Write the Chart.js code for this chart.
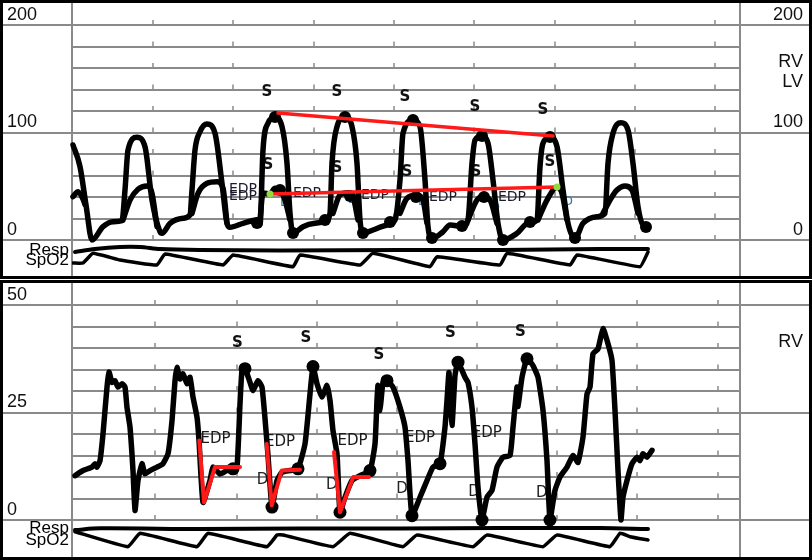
<!DOCTYPE html>
<html><head><meta charset="utf-8">
<script src="https://cdn.jsdelivr.net/npm/chart.js@4.4.1/dist/chart.umd.min.js"></script>
<style>
html,body{margin:0;padding:0;background:#fff;}
#wrap{position:relative;width:812px;height:560px;overflow:hidden;}
canvas{position:absolute;left:0;}
</style></head><body>
<div id="wrap">
<canvas id="top" width="812" height="279" style="top:0px"></canvas>
<canvas id="topStrip" width="812" height="36" style="top:240px"></canvas>
<canvas id="bot" width="812" height="280" style="top:280px"></canvas>
<canvas id="botStrip" width="812" height="36" style="top:520px"></canvas>
</div>
<script>
// time axis: samples (80 per second); pressures in mmHg
const topTimeTicks = [81,161,242,322,402,483,563,643];
const botTimeTicks = [83,165,245,325,405,485,565,646];

const topLV = [[1,88.4],[8,68.2],[14,32.6],[20,0],[31,12.4],[41,17.0],[50,18.0],[53,46.5],[56,83.7],[65,95.5],[73,86.8],[80,37.2],[88,7.7],[90,6.2],[98,15.5],[111,20.2],[118,23.3],[120,46.5],[123,83.7],[128,100.7],[135,107.9],[143,99.3],[150,52.7],[155,15.5],[158,11.8],[171,15.5],[185,18.6],[188,14.0],[191,83.7],[196,108.6],[203,114.1],[210,105.4],[215,71.3],[218,24.8],[221,6.2],[231,12.4],[243,15.5],[253,17.0],[258,24.8],[260,71.3],[265,105.4],[273,114.7],[280,105.4],[285,71.3],[288,18.6],[291,6.2],[301,9.3],[315,14.0],[323,18.6],[328,55.8],[331,99.3],[341,111.6],[348,105.4],[353,55.8],[356,12.4],[360,1.6],[371,7.7],[378,14.0],[391,12.4],[396,18.6],[400,71.3],[403,93.0],[410,96.7],[416,90.0],[421,55.8],[426,15.5],[431,0],[445,6.2],[456,15.5],[465,18.6],[468,68.2],[471,90.0],[478,95.5],[485,86.8],[491,46.5],[496,15.5],[503,1.6],[511,15.5],[525,21.7],[533,24.8],[536,71.3],[541,99.3],[549,109.1],[556,102.3],[561,71.3],[566,31.0],[571,14.0],[576,12.4]];

const topRV = [[1,40.3],[6,45],[11,38],[13,33],[14,null],
[51,18.6],[58,37.2],[66,47.2],[75,50.2],[80,43.4],[85,12.4],[86,null],
[120,24.8],[126,43.4],[135,52.7],[145,54.2],[151,48.1],[155,15.5],[156,null],
[188,18.6],[191,43.7],[198,42.8],[203,48.1],[208,46.5],[213,37.2],[218,18.6],[219,null],
[261,24.8],[268,41.9],[276,44.0],[281,40.3],[286,18.6],[287,null],
[328,24.8],[335,38.8],[345,41.9],[351,37.2],[355,15.5],[356,null],
[396,18.6],[405,37.2],[411,40.3],[418,37.2],[425,15.5],[426,null],
[466,18.6],[475,37.2],[485,49.0],[490,43.4],[495,18.6],[496,null],
[531,24.8],[538,37.2],[545,46.5],[553,50.2],[560,46.5],[566,24.8]];

const topDots = [[203,114.4],[273,114.4],[341,111.6],[410,96.7],[478,95.8],
[221,6.5],[291,6.5],[360,1.9],[431,0],[503,1.9],
[185,15.8],[253,18.6],[318,16.7],[390,13.0],[458,16.7],[574,12.1],
[208,46.5],[278,40.9],[344,40.0],[412,40.0]];
const topSLine = [[206,118.1],[481,96.7]];
const topEDPLine = [[198,42.8],[485,49.3]];

const topSLabels = [[195,137.7],[265,137.7],[333,133.0],[403,123.7],[471,120.9],[196,69.8],[265,67.0],[335,63.3],[404,63.3],[478,72.6]];
const topEDPLabels = [[171,47.4],[171,40.9],[235,43.7],[303,41.9],[371,40.0],[440,40.0]];
const topDLabels = [[213,34.4],[281,37.2],[351,35.3],[423,29.8],[496,35.3]];
const topSideNames = [['RV',165.1],['LV',146.5]];

const botRV = [[3,10.3],[11,11.5],[20,12.3],[23,13.1],[25,12.3],[28,13.8],[31,20.0],[35,30.9],[37,34.4],[40,32.0],[43,32.4],[46,30.9],[50,31.7],[53,30.9],[55,26.2],[58,21.6],[61,11.5],[63,2.2],[66,9.2],[70,13.1],[73,10.7],[78,11.5],[85,12.3],[91,13.1],[96,15.4],[100,23.1],[103,32.4],[105,35.5],[108,32.8],[111,34.0],[115,31.7],[118,33.2],[121,28.6],[125,23.9],[127,18.5],[131,4.1],[138,9.2],[141,12.3],[148,10.7],[155,11.5],[161,11.9],[165,12.3],[168,27.0],[170,34.8],[173,35.2],[178,32.0],[181,30.1],[186,32.4],[190,30.9],[193,23.6],[196,15.0],[200,3.0],[205,9.2],[210,11.1],[218,11.5],[226,11.9],[233,17.7],[238,29.3],[241,35.7],[245,31.7],[250,28.6],[255,31.3],[258,27.8],[261,20.8],[265,15.4],[268,1.8],[273,5.3],[280,9.2],[288,10.3],[298,11.5],[303,17.7],[305,27.8],[306,31.3],[308,25.5],[311,32.0],[315,32.4],[321,30.9],[328,26.2],[333,21.6],[336,13.8],[340,1.0],[348,5.3],[355,9.2],[361,12.3],[368,13.1],[373,21.6],[375,27.8],[377,34.3],[380,22.0],[383,33.6],[386,36.7],[393,33.2],[396,32.0],[400,26.2],[403,17.7],[406,7.6],[410,0],[415,5.3],[420,6.9],[425,12.3],[431,14.6],[438,15.0],[441,21.6],[445,30.9],[446,26.4],[450,33.2],[455,37.5],[461,35.9],[466,33.2],[471,25.5],[475,13.8],[478,0],[483,6.9],[488,10.0],[495,12.3],[501,15.0],[506,13.4],[511,19.3],[515,29.3],[518,30.9],[521,38.7],[526,39.8],[531,44.5],[536,41.0],[540,37.1],[543,25.5],[546,11.5],[549,0],[551,5.3],[555,9.2],[560,13.1],[565,14.6],[568,13.8],[571,15.4],[575,14.6],[580,16.2]];

const botDots = [[173,35.2],[200,3.0],[226,11.9],[241,35.7],[268,1.8],[298,11.5],[315,32.4],[340,1.0],[368,13.1],[386,36.7],[410,0],[455,37.5],[478,0],[161,11.9]];
const botRed = [[127.3,18.5],[132,4.1],[143,12.3],[168,12.3],[169,null],[194.7,17.7],[199.7,3.4],[209.7,11.5],[228,11.7],[229,null],[262,15.8],[268,1.8],[281.3,10.0],[297,10.0]];

const botSLabels = [[165.5,41.2],[234,42.2],[307,38.3],[378.5,43.4],[448.5,43.6]];
const botEDPLabels = [[143.5,18.7],[208,18.1],[280.5,18.3],[348,19.1],[414.7,20.2]];
const botDLabels = [[190.5,9.2],[259.7,8.0],[330,7.3],[402,6.4],[469.7,6.3]];
const botSideNames = [['RV',41.5]];

// respiration / pleth strips (arbitrary units 0-100)
const topResp = [[3,66.7],[23,75],[48,80.6],[68,80.6],[88,75],[128,72.2],[208,70.8],[328,72.2],[428,72.2],[528,75],[576,75]];
const topSpO2 = [[1,36.1],[11,36.1],[21,63.1],[48,44.4],[85,30.6],[93,61.1],[151,30.6],[161,58.3],[221,25.8],[228,58.3],[288,30.6],[301,63.1],[358,25.8],[365,53.6],[428,30.6],[435,63.1],[498,30.6],[505,58.3],[568,25.8],[576,66.7]];
const botResp = [[3,72.2],[28,76.9],[128,75],[228,76.4],[328,76.4],[428,77.8],[528,77.8],[576,75]];
const botSpO2 = [[3,67.5],[56,25.8],[68,63.1],[125,25.8],[136,63.1],[195,25.8],[205,58.3],[211,58.3],[261,25.8],[278,63.1],[331,25.8],[345,58.3],[401,25.8],[415,58.3],[471,25.8],[485,58.3],[538,25.8],[548,63.1],[558,53.6],[576,44.4]];

const GRID = '#8a8a8a';
const SANS = '"Liberation Sans", Arial, sans-serif';
const DEJA = '"DejaVu Sans", sans-serif';
const xy = a => a.map(([x, y]) => ({x, y}));

function panelDecor(o) {
  return {
    id: 'decor',
    beforeDatasetsDraw(chart) {
      const {ctx, chartArea: a, scales, height} = chart;
      const x = scales.x, y = scales.y;
      ctx.save();
      ctx.strokeStyle = GRID; ctx.lineWidth = 2;
      [a.left, a.right].forEach(px => { ctx.beginPath(); ctx.moveTo(px, 0); ctx.lineTo(px, height); ctx.stroke(); });
      ctx.lineWidth = 1.5;
      y.ticks.forEach(tk => {
        const py = y.getPixelForValue(tk.value);
        o.timeTicks.forEach(t => {
          const px = x.getPixelForValue(t);
          ctx.beginPath(); ctx.moveTo(px, py - 5); ctx.lineTo(px, py); ctx.stroke();
        });
      });
      ctx.textAlign = 'center'; ctx.textBaseline = 'middle';
      o.labels.forEach(g => {
        ctx.font = g.font; ctx.fillStyle = g.color;
        g.points.forEach(([t, v]) => ctx.fillText(g.text, x.getPixelForValue(t), y.getPixelForValue(v)));
      });
      ctx.fillStyle = '#111'; ctx.font = '18px ' + SANS; ctx.textAlign = 'right';
      o.sideNames.forEach(([txt, v]) => ctx.fillText(txt, chart.width - 9, y.getPixelForValue(v)));
      ctx.restore();
    },
    afterDraw(chart) {
      const {ctx, width, height} = chart;
      ctx.save();
      ctx.strokeStyle = '#000'; ctx.lineWidth = 3;
      ctx.strokeRect(1.5, 1.5, width - 3, height - 3);
      ctx.restore();
    }
  };
}

function yAxis(o, pos) {
  const showLabels = pos === 'left' || o.rightLabels;
  const tickStyle = {
    stepSize: o.step, autoSkip: false, crossAlign: 'far', labelOffset: -10, padding: 0,
    color: '#111', font: {family: SANS, size: 18},
    callback: v => (showLabels && v % o.major === 0 ? v : '')
  };
  return {
    position: pos, min: 0, max: o.max,
    afterFit: s => { s.width = pos === 'left' ? 65 : 63; },
    border: {display: false},
    ticks: tickStyle,
    grid: {
      drawOnChartArea: pos === 'left', color: GRID, lineWidth: 2, tickLength: 72,
      tickColor: c => (c.tick && c.tick.value % o.major === 0 ? GRID : 'rgba(0,0,0,0)')
    }
  };
}

function lineDs(data, extra) {
  return Object.assign({
    data: xy(data), borderColor: '#000', borderWidth: 5.5, pointRadius: 0,
    borderCapStyle: 'round', borderJoinStyle: 'round', spanGaps: false, clip: false
  }, extra);
}
function dotDs(data, r, color, order) {
  return {data: xy(data), showLine: false, pointRadius: r, pointHoverRadius: r,
    pointBackgroundColor: color, pointBorderWidth: 0, order, clip: false};
}

function mainChart(id, o) {
  return new Chart(document.getElementById(id), {
    type: 'line',
    data: {datasets: o.datasets},
    options: {
      responsive: false, animation: false, devicePixelRatio: 1,
      layout: {padding: {left: 7, right: 9, top: 25, bottom: o.padBottom}},
      plugins: {legend: {display: false}, tooltip: {enabled: false}},
      scales: {
        x: {type: 'linear', min: 0, max: 668, display: false},
        y: yAxis(o, 'left'),
        y2: yAxis(o, 'right')
      }
    },
    plugins: [panelDecor(o)]
  });
}

function stripChart(id, o) {
  return new Chart(document.getElementById(id), {
    type: 'line',
    data: {datasets: [
      {data: xy(o.resp), borderColor: '#000', borderWidth: 4, pointRadius: 0, tension: 0.3, borderCapStyle: 'round'},
      {data: xy(o.spo2), borderColor: '#000', borderWidth: 3.5, pointRadius: 0, tension: 0.1, borderCapStyle: 'round', borderJoinStyle: 'round'}
    ]},
    options: {
      responsive: false, animation: false, devicePixelRatio: 1,
      layout: {padding: {left: 72, right: 72, top: 0, bottom: 0}},
      plugins: {legend: {display: false}, tooltip: {enabled: false}},
      scales: {x: {type: 'linear', min: 0, max: 668, display: false}, y: {min: 0, max: 100, display: false}}
    },
    plugins: [{
      id: 'stripNames',
      afterDatasetsDraw(chart) {
        const {ctx, chartArea: a, scales} = chart;
        ctx.save();
        ctx.fillStyle = '#000'; ctx.font = '17px ' + SANS; ctx.textAlign = 'right'; ctx.textBaseline = 'middle';
        o.names.forEach(([txt, v]) => ctx.fillText(txt, a.left - 3, scales.y.getPixelForValue(v)));
        ctx.restore();
      }
    }]
  });
}

mainChart('top', {
  max: 200, step: 20, major: 100, padBottom: 39, rightLabels: true, timeTicks: topTimeTicks, sideNames: topSideNames,
  labels: [
    {text: 'S', points: topSLabels, font: 'bold 15px ' + DEJA, color: '#111'},
    {text: 'EDP', points: topEDPLabels, font: '14px ' + DEJA, color: '#1a1a2a'},
    {text: 'D', points: topDLabels, font: '13px ' + DEJA, color: '#3b78a8'}
  ],
  datasets: [
    dotDs(topEDPLine, 3.5, '#8fdc3c', 0),
    lineDs(topSLine, {borderColor: '#ff1a1a', borderWidth: 3.5, order: 1}),
    lineDs(topEDPLine, {borderColor: '#ff1a1a', borderWidth: 3.5, order: 1}),
    dotDs(topDots, 6, '#000', 2),
    lineDs(topLV, {cubicInterpolationMode: 'monotone', order: 3}),
    lineDs(topRV, {cubicInterpolationMode: 'monotone', order: 4})
  ]
});

stripChart('topStrip', {resp: topResp, spo2: topSpO2, names: [['Resp', 72.2], ['SpO2', 42.2]]});

mainChart('bot', {
  max: 50, step: 5, major: 25, padBottom: 40, rightLabels: false, timeTicks: botTimeTicks, sideNames: botSideNames,
  labels: [
    {text: 'S', points: botSLabels, font: 'bold 15px ' + DEJA, color: '#111'},
    {text: 'EDP', points: botEDPLabels, font: '15px ' + DEJA, color: '#1a1a1a'},
    {text: 'D', points: botDLabels, font: '15px ' + DEJA, color: '#222'}
  ],
  datasets: [
    lineDs(botRed, {borderColor: '#ff1a1a', borderWidth: 4, order: 1}),
    dotDs(botDots, 6.5, '#000', 2),
    lineDs(botRV, {tension: 0.15, order: 3})
  ]
});

stripChart('botStrip', {resp: botResp, spo2: botSpO2, names: [['Resp', 76.9], ['SpO2', 44.4]]});
</script>
</body></html>
